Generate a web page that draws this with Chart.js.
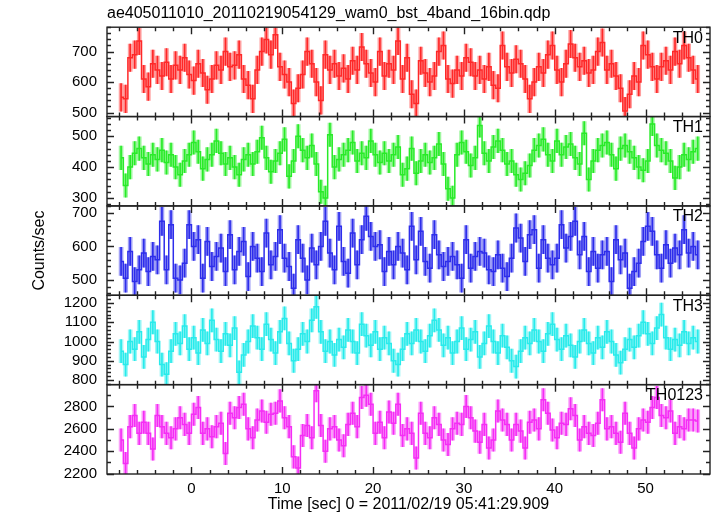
<!DOCTYPE html>
<html>
<head>
<meta charset="utf-8">
<script src="https://cdn.jsdelivr.net/npm/chart.js@4/dist/chart.umd.min.js"></script>
<style>
  html, body { margin: 0; padding: 0; background: #fff; }
  canvas { display: block; }
</style>
</head>
<body>
<canvas id="qdp" width="717" height="516"></canvas>
<script>
// bin centres (sec, relative to 2011/02/19 05:41:29.909)
const time = [
  -7.75, -7.25, -6.75, -6.25, -5.75, -5.25, -4.75, -4.25, -3.75, -3.25, -2.75, -2.25, -1.75, -1.25, -0.75, -0.25,
  0.25, 0.75, 1.25, 1.75, 2.25, 2.75, 3.25, 3.75, 4.25, 4.75, 5.25, 5.75, 6.25, 6.75, 7.25, 7.75,
  8.25, 8.75, 9.25, 9.75, 10.25, 10.75, 11.25, 11.75, 12.25, 12.75, 13.25, 13.75, 14.25, 14.75, 15.25, 15.75,
  16.25, 16.75, 17.25, 17.75, 18.25, 18.75, 19.25, 19.75, 20.25, 20.75, 21.25, 21.75, 22.25, 22.75, 23.25, 23.75,
  24.25, 24.75, 25.25, 25.75, 26.25, 26.75, 27.25, 27.75, 28.25, 28.75, 29.25, 29.75, 30.25, 30.75, 31.25, 31.75,
  32.25, 32.75, 33.25, 33.75, 34.25, 34.75, 35.25, 35.75, 36.25, 36.75, 37.25, 37.75, 38.25, 38.75, 39.25, 39.75,
  40.25, 40.75, 41.25, 41.75, 42.25, 42.75, 43.25, 43.75, 44.25, 44.75, 45.25, 45.75, 46.25, 46.75, 47.25, 47.75,
  48.25, 48.75, 49.25, 49.75, 50.25, 50.75, 51.25, 51.75, 52.25, 52.75, 53.25, 53.75, 54.25, 54.75, 55.25, 55.75
];

// counts/sec per band
const th0 = [
  550, 545, 680, 690, 735, 610, 585, 660, 640, 620, 665, 610, 655, 640, 680, 625,
  605, 660, 630, 575, 610, 655, 640, 700, 650, 655, 690, 610, 590, 545, 640, 700,
  740, 690, 755, 650, 625, 600, 530, 580, 625, 700, 660, 600, 540, 690, 640, 660,
  620, 645, 610, 670, 640, 715, 660, 630, 600, 700, 620, 660, 640, 735, 610, 680,
  560, 530, 670, 630, 600, 620, 700, 720, 610, 595, 640, 620, 680, 665, 620, 640,
  610, 650, 590, 580, 720, 650, 630, 675, 660, 610, 545, 600, 650, 630, 690, 720,
  640, 600, 660, 725, 680, 650, 670, 630, 640, 700, 730, 640, 660, 620, 580, 505,
  560, 620, 600, 720, 690, 650, 610, 650, 670, 640, 700, 660, 720, 680, 640, 610
];
const th1 = [
  430, 340, 400, 445, 460, 430, 410, 440, 425, 455, 415, 440, 400, 375, 420, 440,
  480, 450, 395, 425, 440, 485, 445, 410, 430, 400, 375, 425, 440, 410, 450, 495,
  430, 385, 420, 445, 490, 370, 420, 500, 455, 430, 470, 410, 320, 300, 505, 400,
  425, 440, 455, 480, 420, 445, 430, 485, 440, 415, 445, 420, 440, 465, 375, 395,
  460, 380, 420, 440, 415, 430, 475, 410, 330, 300, 440, 480, 450, 405, 430, 535,
  445, 420, 465, 485, 455, 410, 420, 375, 360, 380, 405, 455, 470, 490, 440, 420,
  485, 440, 465, 475, 430, 410, 510, 360, 420, 455, 470, 480, 440, 395, 460, 470,
  450, 430, 400, 390, 420, 540, 470, 455, 445, 420, 365, 400, 440, 425, 450, 460
];
const th2 = [
  555, 505, 585, 495, 530, 580, 525, 570, 560, 675, 530, 665, 505, 500, 550, 665,
  600, 620, 505, 615, 540, 570, 595, 525, 635, 530, 585, 615, 510, 600, 565, 525,
  640, 545, 570, 650, 565, 540, 475, 620, 565, 500, 595, 545, 600, 675, 580, 530,
  660, 555, 520, 640, 545, 620, 690, 630, 600, 605, 525, 585, 545, 600, 580, 530,
  660, 560, 645, 555, 535, 635, 575, 540, 555, 570, 545, 505, 620, 535, 570, 585,
  580, 530, 525, 575, 535, 510, 565, 655, 625, 555, 635, 650, 535, 620, 565, 545,
  565, 665, 595, 630, 675, 575, 630, 525, 585, 535, 575, 585, 495, 620, 560, 580,
  475, 525, 550, 615, 660, 645, 575, 535, 605, 550, 595, 575, 650, 580, 600, 575
];
const th3 = [
  950, 880, 1000, 960, 1050, 920, 1010, 1100, 1000, 880, 830, 950, 1040, 990, 1080, 960,
  1020, 940, 1060, 990, 1110, 1010, 950, 1040, 980, 1070, 840, 930, 1000, 1080, 1020, 960,
  1090, 1010, 940, 1050, 1120, 990, 900, 960, 1040, 1000, 1110, 1180, 1050, 950, 1000, 930,
  1010, 970, 1060, 1000, 940, 1090, 1030, 980, 1050, 960, 1020, 990, 900, 880, 960, 1040,
  990, 1060, 1000, 950, 1030, 1110, 1060, 980, 1020, 940, 1000, 1070, 960, 1010, 1050, 920,
  990, 1080, 1000, 940, 1030, 970, 900, 870, 950, 1020, 990, 1060, 1000, 950, 1040, 1090,
  1010, 960, 1030, 980, 920, 1000, 1060, 990, 940, 1020, 970, 1050, 1000, 930, 890, 960,
  1010, 970, 1030, 1100, 1040, 990, 1070, 1140, 1020, 960, 1010, 980, 1050, 990, 1020, 1000
];
const th0123 = [
  2500, 2290, 2620, 2720, 2560, 2660, 2560, 2420, 2720, 2620, 2560, 2520, 2600, 2700, 2640, 2560,
  2730, 2790, 2560, 2600, 2530, 2620, 2650, 2380, 2740, 2700, 2790, 2820, 2600, 2520, 2680, 2760,
  2660, 2730, 2740, 2850, 2700, 2620, 2350, 2250, 2540, 2630, 2520, 2940, 2630, 2400, 2600, 2620,
  2500, 2450, 2640, 2740, 2620, 2880, 2900, 2820, 2560, 2660, 2520, 2750, 2650, 2820, 2540, 2600,
  2560, 2340, 2740, 2560, 2520, 2700, 2640, 2500, 2460, 2600, 2650, 2640, 2800, 2700, 2580, 2480,
  2640, 2430, 2500, 2760, 2680, 2640, 2500, 2640, 2580, 2430, 2660, 2680, 2600, 2860, 2740, 2590,
  2520, 2650, 2640, 2780, 2720, 2500, 2620, 2560, 2540, 2650, 2860, 2600, 2620, 2560, 2480, 2740,
  2560, 2430, 2600, 2680, 2660, 2790, 2880, 2720, 2700, 2760, 2560, 2620, 2600, 2680, 2680, 2670
];

const bandLabels = ['TH0', 'TH1', 'TH2', 'TH3', 'TH0123'];
const bandSeries = [th0, th1, th2, th3, th0123];
const bandErrors = [45, 38, 42, 60, 100];

// look of each panel
const lineColors = ['rgb(255,40,40)', 'rgb(40,235,40)', 'rgb(45,45,235)', 'rgb(40,235,235)', 'rgb(245,45,245)'];
const barColors = ['rgba(255,40,40,0.45)', 'rgba(40,235,40,0.45)', 'rgba(45,45,235,0.45)', 'rgba(40,235,235,0.45)', 'rgba(245,45,245,0.45)'];
const axisMin = [487, 274, 454, 776, 2197];
const axisMax = [780, 564, 721, 1240, 2995];
const majorStep = [100, 100, 100, 100, 200];
const minorStep = [20, 20, 20, 20, 100];

Chart.defaults.font.family = "'Liberation Sans', Arial, Helvetica, sans-serif";
Chart.defaults.color = '#000';

function onStep(v, step) {
  return Math.abs(v - Math.round(v / step) * step) < 1e-6;
}

// multiples of step inside the scale range
function stepTicks(scale, step) {
  const out = [];
  for (let v = Math.ceil(scale.min / step) * step; v <= scale.max + 1e-9; v += step) {
    out.push({value: v});
  }
  return out;
}

// datasets: step line + light error band + thin dark error line
const datasets = [];
bandSeries.forEach(function(vals, k) {
  const yID = 'y' + k;
  const err = bandErrors[k];
  datasets.push({
    type: 'line',
    yAxisID: yID,
    data: time.map((t, i) => ({x: t, y: vals[i]})),
    stepped: 'middle',
    borderColor: lineColors[k],
    borderWidth: 1.5,
    pointRadius: 0,
    order: 0
  });
  datasets.push({
    type: 'bar',
    yAxisID: yID,
    data: time.map((t, i) => ({x: t, y: [vals[i] - err, vals[i] + err]})),
    backgroundColor: barColors[k],
    barThickness: 4,
    grouped: false,
    order: 2
  });
  datasets.push({
    type: 'bar',
    yAxisID: yID,
    data: time.map((t, i) => ({x: t, y: [vals[i] - err, vals[i] + err]})),
    backgroundColor: lineColors[k],
    barThickness: 1,
    grouped: false,
    order: 1
  });
});

const scales = {
  x: {
    type: 'linear',
    min: -9.3,
    max: 57.1,
    offset: false,
    grid: {display: false, drawTicks: false},
    border: {display: false},
    ticks: {padding: 6, maxRotation: 0, autoSkip: false, font: {size: 15}, callback: v => String(v)},
    afterBuildTicks: s => { s.ticks = stepTicks(s, 10); },
    afterFit: s => { s.height = 42; },
    title: {
      display: true,
      text: 'Time [sec] 0 = 2011/02/19 05:41:29.909',
      font: {size: 16},
      padding: {top: 0, bottom: 2}
    }
  }
};
bandLabels.forEach(function(name, k) {
  scales['y' + k] = {
    type: 'linear',
    position: 'left',
    stack: 'bands',
    stackWeight: 1,
    weight: bandLabels.length - k,
    min: axisMin[k],
    max: axisMax[k],
    grid: {display: false, drawTicks: false},
    border: {display: false},
    ticks: {autoSkip: false, padding: 10, font: {size: 15}, callback: v => String(v)},
    afterBuildTicks: s => { s.ticks = stepTicks(s, majorStep[k]); },
    afterFit: s => { s.width = 107; },
    title: {
      display: k === 2,
      text: 'Counts/sec',
      font: {size: 16},
      padding: {top: 30, bottom: 0}
    }
  };
});

// clip every band to its own panel, then draw frames, inward ticks and band names
const panelFrames = {
  id: 'panelFrames',
  beforeDatasetDraw(chart, args) {
    const s = args.meta.yScale;
    const a = chart.chartArea;
    const ctx = chart.ctx;
    ctx.save();
    ctx.beginPath();
    ctx.rect(a.left, s.top, a.right - a.left, s.bottom - s.top);
    ctx.clip();
  },
  afterDatasetDraw(chart) {
    chart.ctx.restore();
  },
  afterDraw(chart) {
    const ctx = chart.ctx;
    const a = chart.chartArea;
    const xs = chart.scales.x;
    ctx.save();
    ctx.strokeStyle = '#222';
    ctx.lineWidth = 1.4;
    bandLabels.forEach(function(name, k) {
      const s = chart.scales['y' + k];
      ctx.strokeRect(a.left, s.top, a.right - a.left, s.bottom - s.top);
      ctx.beginPath();
      for (let v = Math.ceil(xs.min / 2) * 2; v <= xs.max; v += 2) {
        const px = Math.round(xs.getPixelForValue(v)) + 0.5;
        const len = onStep(v, 10) ? 7 : 4;
        ctx.moveTo(px, s.top); ctx.lineTo(px, s.top + len);
        ctx.moveTo(px, s.bottom); ctx.lineTo(px, s.bottom - len);
      }
      const step = minorStep[k];
      for (let v = Math.ceil(s.min / step) * step; v <= s.max; v += step) {
        const py = Math.round(s.getPixelForValue(v)) + 0.5;
        const len = onStep(v, majorStep[k]) ? 7 : 4;
        ctx.moveTo(a.left, py); ctx.lineTo(a.left + len, py);
        ctx.moveTo(a.right, py); ctx.lineTo(a.right - len, py);
      }
      ctx.stroke();
      ctx.fillStyle = '#000';
      ctx.font = "16px 'Liberation Sans', Arial, sans-serif";
      ctx.textAlign = 'right';
      ctx.textBaseline = 'middle';
      ctx.fillText(name, a.right - 7, s.top + 11);
    });
    ctx.restore();
  }
};

new Chart(document.getElementById('qdp'), {
  type: 'bar',
  data: {datasets: datasets},
  options: {
    responsive: false,
    animation: false,
    devicePixelRatio: 1,
    events: [],
    layout: {padding: {left: 0, right: 7, top: 0, bottom: 0}},
    scales: scales,
    plugins: {
      legend: {display: false},
      tooltip: {enabled: false},
      title: {
        display: true,
        text: 'ae405011010_20110219054129_wam0_bst_4band_16bin.qdp',
        align: 'start',
        fullSize: false,
        color: '#000',
        font: {size: 16, weight: 'normal'},
        padding: {top: 4, bottom: 4}
      }
    }
  },
  plugins: [panelFrames]
});
</script>
</body>
</html>
